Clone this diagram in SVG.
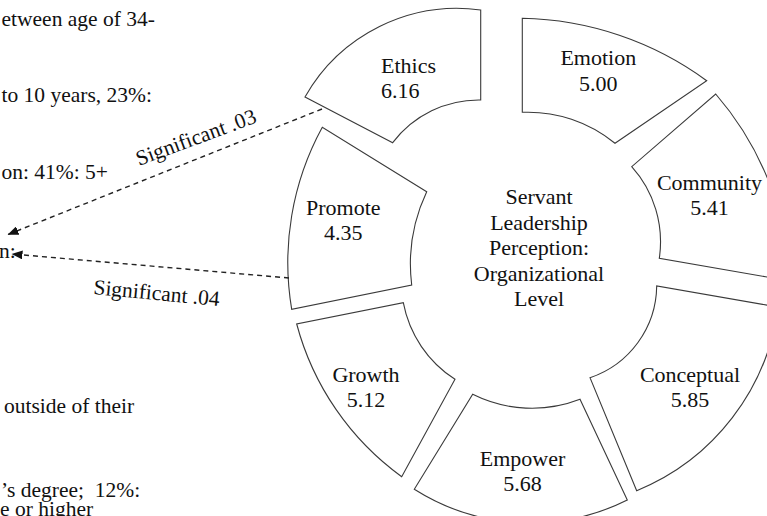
<svg xmlns="http://www.w3.org/2000/svg" width="767" height="516" viewBox="0 0 767 516">
  <style>
    .seg { fill: #ffffff; stroke: #3a3a3a; stroke-width: 1.1; }
    .lbl { font-family: 'Liberation Serif', 'DejaVu Serif', serif; font-size: 22px; fill: #111; text-anchor: middle; }
    .note { font-family: 'Liberation Serif', 'DejaVu Serif', serif; font-size: 21.5px; fill: #111; }
    .link { fill: none; stroke: #222; stroke-width: 1.4; stroke-dasharray: 5 4; }
  </style>
  <defs>
    <!-- arrowhead: tip on the +x side so it points along the path at its end -->
    <marker id="head" markerUnits="userSpaceOnUse" markerWidth="12" markerHeight="9" refX="10.5" refY="4.5" orient="auto">
      <path d="M0,0 L11,4.5 L0,9 Z" fill="#111"/>
    </marker>
  </defs>
  <rect width="767" height="516" fill="#ffffff"/>

  <!-- notes column on the left -->
  <g id="notes" class="note">
    <text x="1.5" y="26">etween age of 34-</text>
    <text x="1.5" y="101.5">to 10 years, 23%:</text>
    <text x="1.5" y="178.5">on: 41%: 5+</text>
    <text x="-1" y="258">n:</text>
    <text x="4" y="412.5">outside of their</text>
    <text x="1" y="496.5" xml:space="preserve">’s degree;  12%:</text>
    <text x="0" y="516">e or higher</text>
  </g>

  <!-- ring segments -->
  <g id="ethics">
    <path class="seg" d="M305,97 A175,175 0 0 1 480.7,10 L480.7,100 A108,108 0 0 0 392.7,142.7 Z"/>
    <text class="lbl" x="381" y="72.5" style="text-anchor:start">Ethics</text>
    <text class="lbl" x="381" y="98" style="text-anchor:start">6.16</text>
  </g>
  <g id="emotion">
    <path class="seg" d="M522.3,18.3 A323,323 0 0 1 706.7,80.7 L615,143.3 A137,137 0 0 0 522.3,112.3 Z"/>
    <text class="lbl" x="598.3" y="65">Emotion</text>
    <text class="lbl" x="598.3" y="90.5">5.00</text>
  </g>
  <g id="community">
    <path class="seg" d="M715.7,94 A306,306 0 0 1 790,281 L659.3,258.3 A112,112 0 0 0 631.7,166.7 Z"/>
    <text class="lbl" x="709.5" y="190">Community</text>
    <text class="lbl" x="709.5" y="215">5.41</text>
  </g>
  <g id="conceptual">
    <path class="seg" d="M778,307 A230,230 0 0 1 636.7,490.7 L590,377.7 A98,98 0 0 0 656.7,286 Z"/>
    <text class="lbl" x="690" y="381.5">Conceptual</text>
    <text class="lbl" x="690" y="407">5.85</text>
  </g>
  <g id="empower">
    <path class="seg" d="M627.3,500 A217,217 0 0 1 414.3,489.3 L472.7,394.3 A133,133 0 0 0 580,399.3 Z"/>
    <text class="lbl" x="522.5" y="466">Empower</text>
    <text class="lbl" x="522.5" y="491">5.68</text>
  </g>
  <g id="growth">
    <path class="seg" d="M401.7,476.7 A276,276 0 0 1 296.7,324 L403.3,302.7 A117,117 0 0 0 455,379.3 Z"/>
    <text class="lbl" x="366" y="381.5">Growth</text>
    <text class="lbl" x="366" y="407">5.12</text>
  </g>
  <g id="promote">
    <path class="seg" d="M291.7,309.3 A282,282 0 0 1 322.3,127.3 L426.7,191.7 A170,170 0 0 0 411.7,285 Z"/>
    <text class="lbl" x="343.3" y="215">Promote</text>
    <text class="lbl" x="343.3" y="240">4.35</text>
  </g>

  <!-- hub label -->
  <g id="hub" class="lbl">
    <text x="539" y="204">Servant</text>
    <text x="539" y="229.5">Leadership</text>
    <text x="539" y="255">Perception:</text>
    <text x="539" y="280.5">Organizational</text>
    <text x="539" y="306">Level</text>
  </g>

  <!-- dashed links to the notes -->
  <g id="connectors">
    <path class="link" d="M322,109 L8,234.5" marker-end="url(#head)"/>
    <path class="link" d="M289,278 L12,254" marker-end="url(#head)"/>
    <text class="note" transform="translate(139,166) rotate(-20.3)">Significant .03</text>
    <text class="note" transform="translate(93,294) rotate(5.5)">Significant .04</text>
  </g>
</svg>
